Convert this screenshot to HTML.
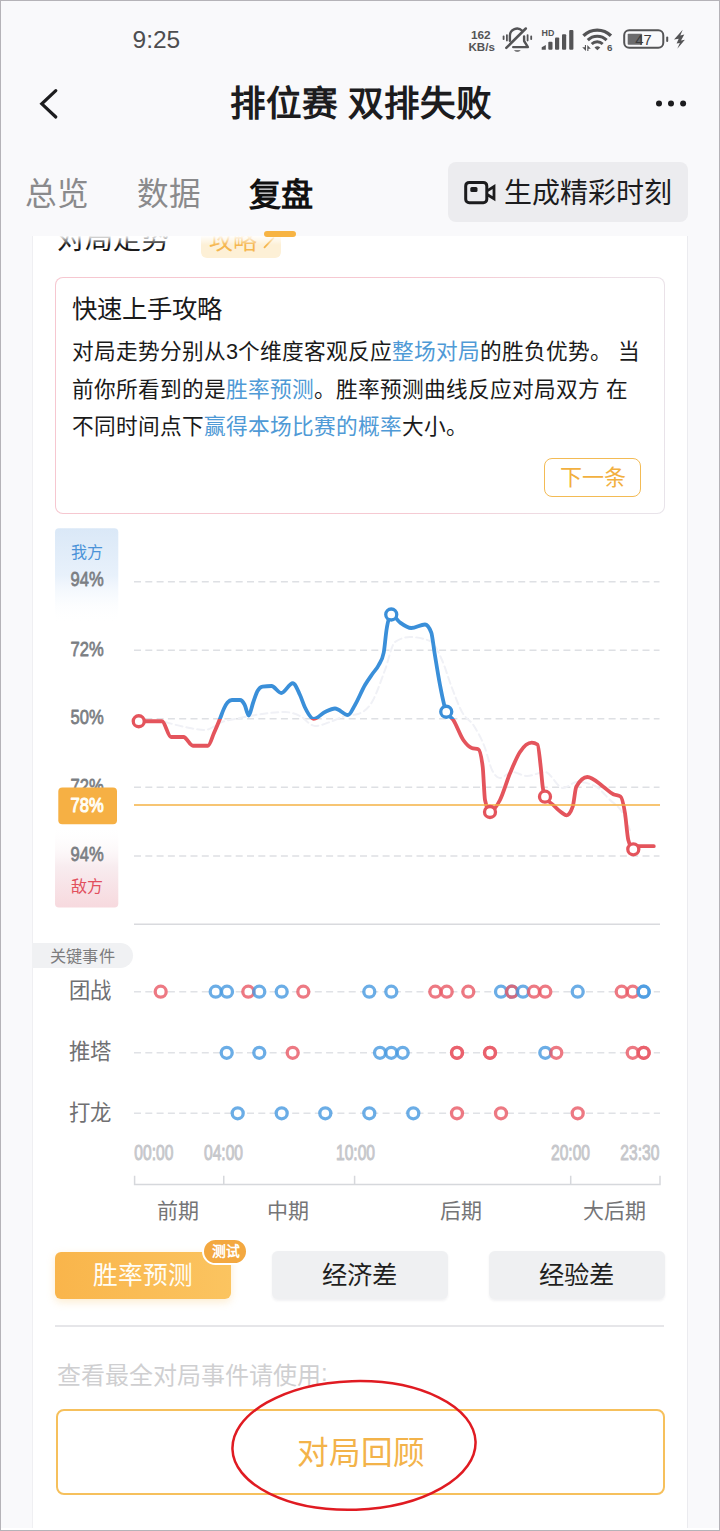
<!DOCTYPE html>
<html lang="zh-CN">
<head>
<meta charset="utf-8">
<title>排位赛 双排失败</title>
<style>
*{box-sizing:border-box;margin:0;padding:0}
html,body{width:720px;height:1531px;overflow:hidden}
body{position:relative;background:#f9f9fb;font-family:"Liberation Sans",sans-serif;color:#1a1a1a;-webkit-font-smoothing:antialiased}
.abs{position:absolute}
.t{position:absolute;white-space:nowrap;line-height:1}
.frame{position:absolute;left:0;top:0;width:720px;height:1531px;border:1px solid #b5b3b8;pointer-events:none;z-index:50}

/* status bar */
.time{left:132.5px;top:28px;font-size:24.5px;color:#4d4d4f}

/* nav */
.title{left:0;width:722px;top:86.5px;text-align:center;font-size:35.6px;font-weight:bold;color:#1c1c1e}

/* tabs */
.tab{top:179.3px;font-size:31.6px;color:#8a8a8c}
.tab.on{color:#111;font-weight:bold;font-size:32.2px;top:179px}
.genbtn{left:448px;top:162px;width:240px;height:59.5px;border-radius:8px;background:#ececef}
.genbtn .t{left:56px;top:17.8px;font-size:28px;color:#1c1c1e}
.ind{left:264px;top:231px;width:32px;height:6px;border-radius:3px;background:#f7b444;z-index:5}

/* card */
.card{left:32px;top:236px;width:655.5px;height:1295px;background:#fff;overflow:hidden;border-left:1px solid #efeff2;border-right:1px solid #ebebef}
.card .h{left:24px;top:-10.5px;font-size:28px;color:#1a1a1a}
.badge{left:168px;top:-10px;width:79.5px;height:32.3px;border-radius:6px;background:#fdf0d6}
.badge .t{left:7.5px;top:2.6px;font-size:24px;color:#f5b64e}

/* tip box */
.tip{left:55px;top:277px;width:610px;height:237px;border:1.5px solid transparent;border-radius:8px;background:linear-gradient(#fff,#fff) padding-box,linear-gradient(100deg,#f6c7d0 0%,#f6c9d2 60%,#eddfe6 85%,#e8e4ea 100%) border-box}
.tip h3{position:absolute;left:15.5px;top:18.5px;font-size:25.3px;font-weight:normal;line-height:1;color:#1a1a1a;white-space:nowrap}
.tip p{position:absolute;left:16px;top:55px;width:590px;font-size:21.7px;line-height:37.6px;color:#1a1a1a;white-space:nowrap}
.tip p b{font-weight:normal;color:#4f9ad6}
.next{left:544px;top:458px;width:97px;height:39px;border:1.5px solid #f3bb55;border-radius:8px;color:#f2b03f;font-size:22px;line-height:37.4px;text-align:center}
</style>
</head>
<body>
<div class="frame"></div>

<!-- status bar -->
<div class="t time">9:25</div>
<svg class="abs" id="status" style="left:460px;top:20px" width="240" height="40" viewBox="0 0 240 40">
<g fill="#545456" font-family="Liberation Sans, sans-serif" font-weight="bold" text-anchor="middle">
<text x="20.800" y="19.200" font-size="11.800">162</text>
<text x="21.700" y="30.900" font-size="11.600">KB/s</text>
<text x="87.900" y="16.300" font-size="8.900">HD</text>
<text x="149.700" y="31.100" font-size="9.800">6</text>
</g>
<!-- bell muted -->
<g fill="none" stroke="#545456" stroke-width="2.400" stroke-linecap="round" stroke-linejoin="round">
<path d="M49.900 20.800 V15.600 A7.100 7.100 0 0 1 62.200 10.800"/>
<path d="M64.100 16.500 V21 L67.900 27.100 H53.200"/>
<path d="M65.800 8.500 L46.300 27.800" stroke-width="2.500"/>
</g>
<g fill="#545456">
<path d="M53.800 30.300 H60.800 Q57.300 33.300 53.800 30.300 Z"/>
<rect x="42.700" y="15.600" width="1.800" height="4.400" rx=".8"/><rect x="46" y="14.300" width="1.800" height="7.100" rx=".8"/>
<rect x="66.700" y="14.300" width="1.800" height="7.100" rx=".8"/><rect x="70.300" y="15.600" width="1.800" height="4.400" rx=".8"/>
<!-- signal -->
<path d="M81.700 29.700 V27.300 L85.800 25 V29.700 Z"/>
<rect x="88.300" y="21.700" width="4.200" height="8" rx="1"/>
<rect x="95" y="17.500" width="4.200" height="12.200" rx="1"/>
<rect x="102" y="14.200" width="4.200" height="15.500" rx="1"/>
<rect x="109.200" y="10" width="4.200" height="19.700" rx="1"/>
<!-- wifi dot + arrows -->
<path d="M137.400 30.200 L134.500 27.400 Q137.400 25 140.300 27.400 Z"/>
<path d="M124.900 25 H126 V30.900 L122.200 27.200 H124.900 Z M127.300 25 L130.800 28.700 H128.400 V30.900 H127.300 Z"/>
<!-- battery -->
<rect x="167.700" y="13.700" width="14.400" height="11.100" rx=".8" fill="#6b6b6d"/>
<rect x="206.200" y="16.400" width="2" height="5.600" rx="1"/>
<path d="M222.700 9.800 L214 19.500 L218.700 18.800 L216.600 23.600 L219.800 22.900 L217.300 28.700 L224.900 19.800 L221 20.500 L224.300 14.400 L220.300 15.400 Z"/>
</g>
<g fill="none" stroke="#545456" stroke-linecap="butt">
<path d="M123.450 15.750 A19.450 19.450 0 0 1 150.950 15.750" stroke-width="3.300"/>
<path d="M127.800 20.100 A13.300 13.300 0 0 1 146.600 20.100" stroke-width="3"/>
<path d="M131.700 24 A7.800 7.800 0 0 1 142.700 24" stroke-width="2.800"/>
<rect x="164.200" y="10.200" width="39.100" height="17.500" rx="5" stroke-width="2"/>
</g>
<text x="183.500" y="24.800" font-family="Liberation Sans, sans-serif" font-size="14.800" fill="#3c3c3e" text-anchor="middle">47</text>
</svg>

<!-- nav -->
<svg class="abs" style="left:36px;top:84px" width="28" height="40" viewBox="0 0 28 40"><path d="M19.8 6.6 L5.8 19.8 L19.8 33" fill="none" stroke="#1c1c1e" stroke-width="3.200" stroke-linecap="round" stroke-linejoin="miter"/></svg>
<div class="t title">排位赛 双排失败</div>
<svg class="abs" style="left:652px;top:96px" width="40" height="16" viewBox="0 0 40 16"><circle cx="7" cy="7.500" r="3" fill="#1c1c1e"/><circle cx="19" cy="7.500" r="3" fill="#1c1c1e"/><circle cx="31.100" cy="7.500" r="3" fill="#1c1c1e"/></svg>

<!-- tabs -->
<div class="t tab" style="left:25px">总览</div>
<div class="t tab" style="left:137px">数据</div>
<div class="t tab on" style="left:248.5px">复盘</div>
<div class="abs genbtn">
  <svg class="abs" style="left:15px;top:16px" width="36" height="30" viewBox="0 0 36 30"><rect x="2.700" y="4.400" width="21.100" height="20.300" rx="3.500" fill="none" stroke="#1c1c1e" stroke-width="3"/><path d="M24.500 12.600 L31 8.600 V20.700 L24.500 16.700" fill="none" stroke="#1c1c1e" stroke-width="2.800" stroke-linejoin="miter"/><rect x="7.300" y="8.900" width="7.200" height="5.100" rx="1.500" fill="#1c1c1e"/></svg>
  <div class="t">生成精彩时刻</div>
</div>
<div class="abs ind"></div>

<!-- card -->
<div class="abs card">
  <div class="t h">对局走势</div>
  <div class="abs badge"><div class="t">攻略</div><svg class="abs" style="left:60px;top:8px" width="16" height="16" viewBox="0 0 16 16"><path d="M3.500 13.300 L12.500 3.800" stroke="#f5b64e" stroke-width="1.800" fill="none" stroke-linecap="round"/></svg></div>
  <div class="abs" style="left:0;top:0;width:656px;height:9px;background:linear-gradient(rgba(255,255,255,.95),rgba(255,255,255,0))"></div>
</div>

<!-- tip box -->
<div class="abs tip">
  <h3>快速上手攻略</h3>
  <p>对局走势分别从3个维度客观反应<b>整场对局</b>的胜负优势。 当<br>前你所看到的是<b>胜率预测</b>。胜率预测曲线反应对局双方 在<br>不同时间点下<b>赢得本场比赛的概率</b>大小。</p>
</div>
<div class="abs next">下一条</div>

<!--CHART-->
<svg class="abs" style="left:0;top:520px" width="720" height="420" viewBox="0 520 720 420">
<defs>
<linearGradient id="gb" x1="0" y1="0" x2="0" y2="1"><stop offset="0" stop-color="#dae8f7"/><stop offset=".5" stop-color="#e8f1fb"/><stop offset="1" stop-color="#ffffff" stop-opacity="0"/></linearGradient>
<linearGradient id="gr" x1="0" y1="0" x2="0" y2="1"><stop offset="0" stop-color="#ffffff" stop-opacity="0"/><stop offset=".5" stop-color="#f8ecef"/><stop offset="1" stop-color="#f7d9de"/></linearGradient>
<clipPath id="cu"><rect x="120" y="520" width="560" height="198.900"/></clipPath>
<clipPath id="cd"><rect x="120" y="718.900" width="560" height="220"/></clipPath>
</defs>
<path d="M55 623 V532.300 a4 4 0 0 1 4 -4 H114.300 a4 4 0 0 1 4 4 V623 Z" fill="url(#gb)"/>
<path d="M55 826 V903.500 a4 4 0 0 0 4 4 H114.300 a4 4 0 0 0 4 -4 V826 Z" fill="url(#gr)"/>
<g stroke="#dee0e4" stroke-width="1.400" stroke-dasharray="7 4.300" fill="none"><path d="M134 581.7 H659.500"/><path d="M134 650.2 H659.500"/><path d="M134 718.8 H659.500"/><path d="M134 787.3 H659.500"/><path d="M134 856.0 H659.500"/></g>
<path d="M165.00 722.00 C171.67 723.83 178.33 725.67 185.00 727.00 C191.67 728.33 198.33 730.00 205.00 730.00 C210.67 730.00 216.33 723.98 222.00 722.00 C228.00 719.90 234.00 719.22 240.00 718.00 C247.33 716.50 254.67 714.99 262.00 714.00 C269.67 712.96 277.33 712.00 285.00 712.00 C290.00 712.00 295.00 713.67 300.00 716.00 C305.00 718.33 310.00 726.00 315.00 726.00 C320.00 726.00 325.00 723.67 330.00 722.00 C335.00 720.33 340.00 717.34 345.00 716.00 C349.33 714.84 353.67 715.33 358.00 714.00 C362.67 712.56 367.33 709.88 372.00 702.00 C376.33 694.68 380.67 681.50 385.00 670.00 C388.33 661.16 391.67 644.22 395.00 642.00 C400.00 638.67 405.00 637.00 410.00 637.00 C416.67 637.00 423.33 638.33 430.00 641.00 C434.00 642.60 438.00 651.01 442.00 660.00 C445.33 667.49 448.67 679.33 452.00 688.00 C455.33 696.67 458.67 705.87 462.00 712.00 C466.00 719.36 470.00 719.59 474.00 726.00 C477.67 731.87 481.33 738.11 485.00 748.00 C487.33 754.30 489.67 765.33 492.00 770.00 C494.67 775.33 497.33 778.00 500.00 778.00 C504.00 778.00 508.00 772.00 512.00 772.00 C517.00 772.00 522.00 776.00 527.00 776.00 C533.00 776.00 539.00 772.00 545.00 772.00 C551.00 772.00 557.00 788.00 563.00 788.00 C567.67 788.00 572.33 782.00 577.00 782.00 C583.00 782.00 589.00 783.33 595.00 786.00 C600.00 788.22 605.00 795.15 610.00 800.00 C614.00 803.88 618.00 805.00 622.00 812.00 C624.67 816.67 627.33 823.33 630.00 830.00" fill="none" stroke="#f0f1f6" stroke-width="2" stroke-dasharray="7 4" stroke-linecap="round"/>
<path d="M134 924.200 H660" stroke="#d9dade" stroke-width="1.600"/>
<g font-family="Liberation Sans, sans-serif">
<text transform="translate(70.500 586.0) scale(.800 1)" font-size="20.700" fill="#7b7e83" stroke="#7b7e83" stroke-width=".750" stroke-linejoin="round">94%</text><text transform="translate(70.500 655.8) scale(.800 1)" font-size="20.700" fill="#7b7e83" stroke="#7b7e83" stroke-width=".750" stroke-linejoin="round">72%</text><text transform="translate(70.500 724.2) scale(.800 1)" font-size="20.700" fill="#7b7e83" stroke="#7b7e83" stroke-width=".750" stroke-linejoin="round">50%</text><text transform="translate(70.500 793.0) scale(.800 1)" font-size="20.700" fill="#7b7e83" stroke="#7b7e83" stroke-width=".750" stroke-linejoin="round">72%</text><text transform="translate(70.500 861.0) scale(.800 1)" font-size="20.700" fill="#7b7e83" stroke="#7b7e83" stroke-width=".750" stroke-linejoin="round">94%</text>
</g>
<g fill="none" stroke-width="3.800" stroke-linecap="round" stroke-linejoin="round">
<path d="M138.75 721.25 C146.50 721.25 154.25 721.25 162.00 721.25 C165.00 721.25 168.00 737.00 171.00 737.00 C175.17 737.00 179.33 737.00 183.50 737.00 C186.67 737.00 189.83 745.75 193.00 745.75 C198.00 745.75 203.00 745.75 208.00 745.75 C210.00 745.75 212.00 737.50 214.00 733.00 C216.00 728.50 218.00 723.73 220.00 718.75 C221.33 715.43 222.67 711.31 224.00 708.50 C225.17 706.04 226.33 703.80 227.50 702.50 C229.00 700.83 230.50 700.00 232.00 700.00 C234.67 700.00 237.33 700.00 240.00 700.00 C241.50 700.00 243.00 701.77 244.50 704.50 C245.92 707.07 247.33 715.50 248.75 715.50 C250.17 715.50 251.58 706.98 253.00 703.00 C254.50 698.79 256.00 693.64 257.50 691.00 C259.17 688.07 260.83 686.82 262.50 686.60 C265.50 686.20 268.50 686.00 271.50 686.00 C274.75 686.00 278.00 693.00 281.25 693.00 C285.08 693.00 288.92 683.25 292.75 683.25 C295.17 683.25 297.58 689.83 300.00 695.00 C301.67 698.57 303.33 704.06 305.00 707.50 C307.92 713.52 310.83 718.90 313.75 718.90 C317.50 718.90 321.25 713.78 325.00 712.00 C328.33 710.42 331.67 708.50 335.00 708.50 C339.33 708.50 343.67 715.00 348.00 715.00 C350.33 715.00 352.67 708.88 355.00 705.00 C358.33 699.45 361.67 690.71 365.00 685.00 C367.50 680.71 370.00 677.36 372.50 673.75 C374.58 670.74 376.67 669.19 378.75 665.00 C380.42 661.65 382.08 660.83 383.75 652.50 C384.67 647.92 385.58 635.85 386.50 630.00 C388.08 619.90 389.67 614.50 391.25 614.50 C394.17 614.50 397.08 620.38 400.00 622.50 C403.75 625.23 407.50 628.00 411.25 628.00 C415.83 628.00 420.42 624.50 425.00 624.50 C427.08 624.50 429.17 627.17 431.25 632.50 C432.33 635.27 433.42 645.93 434.50 652.50 C436.33 663.62 438.17 675.56 440.00 685.00 C442.08 695.72 444.17 706.87 446.25 711.75 C448.60 717.25 450.95 716.44 453.30 720.00 C456.63 725.04 459.97 735.23 463.30 740.00 C466.10 744.01 468.90 746.90 471.70 748.00 C473.90 748.87 476.10 748.43 478.30 749.30 C479.77 749.88 481.23 755.10 482.70 766.70 C483.47 772.76 484.23 796.32 485.00 800.00 C486.67 808.00 488.33 812.00 490.00 812.00 C493.33 812.00 496.67 806.45 500.00 800.00 C503.33 793.55 506.67 781.30 510.00 773.30 C513.33 765.30 516.67 757.05 520.00 752.00 C523.90 746.09 527.80 742.70 531.70 742.70 C533.63 742.70 535.57 743.30 537.50 744.50 C538.57 745.16 539.63 757.29 540.70 766.70 C541.37 772.58 542.03 781.79 542.70 786.70 C543.47 792.35 544.23 795.17 545.00 796.70 C547.77 802.23 550.53 802.35 553.30 805.00 C556.10 807.68 558.90 810.83 561.70 812.70 C563.37 813.81 565.03 815.30 566.70 815.30 C568.70 815.30 570.70 812.43 572.70 806.70 C573.90 803.26 575.10 788.82 576.30 786.70 C579.97 780.23 583.63 777.00 587.30 777.00 C592.63 777.00 597.97 782.96 603.30 786.70 C606.63 789.04 609.97 792.65 613.30 794.30 C615.70 795.49 618.10 795.03 620.50 796.50 C622.00 797.42 623.50 803.93 625.00 813.30 C626.10 820.17 627.20 835.91 628.30 840.00 C629.97 846.20 631.63 849.30 633.30 849.30 C635.03 849.30 636.77 846.20 638.50 846.20 C643.60 846.20 648.70 846.20 653.80 846.20" stroke="#3a8fd9" clip-path="url(#cu)"/>
<path d="M138.75 721.25 C146.50 721.25 154.25 721.25 162.00 721.25 C165.00 721.25 168.00 737.00 171.00 737.00 C175.17 737.00 179.33 737.00 183.50 737.00 C186.67 737.00 189.83 745.75 193.00 745.75 C198.00 745.75 203.00 745.75 208.00 745.75 C210.00 745.75 212.00 737.50 214.00 733.00 C216.00 728.50 218.00 723.73 220.00 718.75 C221.33 715.43 222.67 711.31 224.00 708.50 C225.17 706.04 226.33 703.80 227.50 702.50 C229.00 700.83 230.50 700.00 232.00 700.00 C234.67 700.00 237.33 700.00 240.00 700.00 C241.50 700.00 243.00 701.77 244.50 704.50 C245.92 707.07 247.33 715.50 248.75 715.50 C250.17 715.50 251.58 706.98 253.00 703.00 C254.50 698.79 256.00 693.64 257.50 691.00 C259.17 688.07 260.83 686.82 262.50 686.60 C265.50 686.20 268.50 686.00 271.50 686.00 C274.75 686.00 278.00 693.00 281.25 693.00 C285.08 693.00 288.92 683.25 292.75 683.25 C295.17 683.25 297.58 689.83 300.00 695.00 C301.67 698.57 303.33 704.06 305.00 707.50 C307.92 713.52 310.83 718.90 313.75 718.90 C317.50 718.90 321.25 713.78 325.00 712.00 C328.33 710.42 331.67 708.50 335.00 708.50 C339.33 708.50 343.67 715.00 348.00 715.00 C350.33 715.00 352.67 708.88 355.00 705.00 C358.33 699.45 361.67 690.71 365.00 685.00 C367.50 680.71 370.00 677.36 372.50 673.75 C374.58 670.74 376.67 669.19 378.75 665.00 C380.42 661.65 382.08 660.83 383.75 652.50 C384.67 647.92 385.58 635.85 386.50 630.00 C388.08 619.90 389.67 614.50 391.25 614.50 C394.17 614.50 397.08 620.38 400.00 622.50 C403.75 625.23 407.50 628.00 411.25 628.00 C415.83 628.00 420.42 624.50 425.00 624.50 C427.08 624.50 429.17 627.17 431.25 632.50 C432.33 635.27 433.42 645.93 434.50 652.50 C436.33 663.62 438.17 675.56 440.00 685.00 C442.08 695.72 444.17 706.87 446.25 711.75 C448.60 717.25 450.95 716.44 453.30 720.00 C456.63 725.04 459.97 735.23 463.30 740.00 C466.10 744.01 468.90 746.90 471.70 748.00 C473.90 748.87 476.10 748.43 478.30 749.30 C479.77 749.88 481.23 755.10 482.70 766.70 C483.47 772.76 484.23 796.32 485.00 800.00 C486.67 808.00 488.33 812.00 490.00 812.00 C493.33 812.00 496.67 806.45 500.00 800.00 C503.33 793.55 506.67 781.30 510.00 773.30 C513.33 765.30 516.67 757.05 520.00 752.00 C523.90 746.09 527.80 742.70 531.70 742.70 C533.63 742.70 535.57 743.30 537.50 744.50 C538.57 745.16 539.63 757.29 540.70 766.70 C541.37 772.58 542.03 781.79 542.70 786.70 C543.47 792.35 544.23 795.17 545.00 796.70 C547.77 802.23 550.53 802.35 553.30 805.00 C556.10 807.68 558.90 810.83 561.70 812.70 C563.37 813.81 565.03 815.30 566.70 815.30 C568.70 815.30 570.70 812.43 572.70 806.70 C573.90 803.26 575.10 788.82 576.30 786.70 C579.97 780.23 583.63 777.00 587.30 777.00 C592.63 777.00 597.97 782.96 603.30 786.70 C606.63 789.04 609.97 792.65 613.30 794.30 C615.70 795.49 618.10 795.03 620.50 796.50 C622.00 797.42 623.50 803.93 625.00 813.30 C626.10 820.17 627.20 835.91 628.30 840.00 C629.97 846.20 631.63 849.30 633.30 849.30 C635.03 849.30 636.77 846.20 638.50 846.20 C643.60 846.20 648.70 846.20 653.80 846.20" stroke="#e4545c" clip-path="url(#cd)"/>
</g>
<path d="M134 805 H660" stroke="#f5b244" stroke-width="1.700"/>
<g fill="#fff" stroke-width="3.300">
<circle cx="138.75" cy="721.25" r="5.500" stroke="#e4545c"/><circle cx="391.25" cy="614.50" r="5.500" stroke="#3a8fd9"/><circle cx="446.25" cy="711.75" r="5.500" stroke="#3a8fd9"/><circle cx="490.00" cy="812.00" r="5.500" stroke="#e4545c"/><circle cx="545.00" cy="796.70" r="5.500" stroke="#e4545c"/><circle cx="633.30" cy="849.30" r="5.500" stroke="#e4545c"/>
</g>
<rect x="58.300" y="787.500" width="58.700" height="36.700" rx="4" fill="#f6b044"/>
<g font-family="Liberation Sans, sans-serif"><text transform="translate(70.500 812.3) scale(.800 1)" font-size="20.700" fill="#fffdf5" stroke="#fffdf5" stroke-width="1.150" stroke-linejoin="round">78%</text></g>
<text x="70.800" y="558" font-family="Liberation Sans, sans-serif" font-size="16" fill="#4b93d8">我方</text>
<text x="70.800" y="891.500" font-family="Liberation Sans, sans-serif" font-size="16" fill="#e2505e">敌方</text>
</svg>
<!--/CHART-->

<!--EVENTS-->
<div class="abs" style="left:32px;top:942.500px;width:100.500px;height:25.200px;border-radius:0 12.600px 12.600px 0;background:#f0f1f3"></div>
<div class="t" style="left:50px;top:947.500px;font-size:16.200px;color:#7c7c7e;letter-spacing:.2px">关键事件</div>
<div class="t" style="left:68.500px;top:980.9px;font-size:21.300px;color:#707072">团战</div>
<div class="t" style="left:68.500px;top:1042.0px;font-size:21.300px;color:#707072">推塔</div>
<div class="t" style="left:68.500px;top:1102.5px;font-size:21.300px;color:#707072">打龙</div>
<svg class="abs" style="left:0;top:970px" width="720" height="260" viewBox="0 970 720 260"><g stroke="#e0e2e6" stroke-width="1.400" stroke-dasharray="7 4.300" fill="none"><path d="M134 991.7 H660"/><path d="M134 1052.8 H660"/><path d="M134 1113.3 H660"/></g><g fill="#fff"><circle cx="160.7" cy="991.7" r="5.500"/><circle cx="215.7" cy="991.7" r="5.500"/><circle cx="227.0" cy="991.7" r="5.500"/><circle cx="248.3" cy="991.7" r="5.500"/><circle cx="259.3" cy="991.7" r="5.500"/><circle cx="281.7" cy="991.7" r="5.500"/><circle cx="303.3" cy="991.7" r="5.500"/><circle cx="369.3" cy="991.7" r="5.500"/><circle cx="391.3" cy="991.7" r="5.500"/><circle cx="435.3" cy="991.7" r="5.500"/><circle cx="446.7" cy="991.7" r="5.500"/><circle cx="468.3" cy="991.7" r="5.500"/><circle cx="501.0" cy="991.7" r="5.500"/><circle cx="512.0" cy="991.7" r="5.500"/><circle cx="512.0" cy="991.7" r="5.500"/><circle cx="523.0" cy="991.7" r="5.500"/><circle cx="534.0" cy="991.7" r="5.500"/><circle cx="545.3" cy="991.7" r="5.500"/><circle cx="577.7" cy="991.7" r="5.500"/><circle cx="621.7" cy="991.7" r="5.500"/><circle cx="632.7" cy="991.7" r="5.500"/><circle cx="643.7" cy="991.7" r="5.500"/><circle cx="643.7" cy="991.7" r="5.500"/><circle cx="226.7" cy="1052.8" r="5.500"/><circle cx="259.3" cy="1052.8" r="5.500"/><circle cx="292.7" cy="1052.8" r="5.500"/><circle cx="380.0" cy="1052.8" r="5.500"/><circle cx="391.3" cy="1052.8" r="5.500"/><circle cx="402.7" cy="1052.8" r="5.500"/><circle cx="457.0" cy="1052.8" r="5.500"/><circle cx="457.0" cy="1052.8" r="5.500"/><circle cx="490.0" cy="1052.8" r="5.500"/><circle cx="490.0" cy="1052.8" r="5.500"/><circle cx="545.3" cy="1052.8" r="5.500"/><circle cx="556.3" cy="1052.8" r="5.500"/><circle cx="632.7" cy="1052.8" r="5.500"/><circle cx="643.7" cy="1052.8" r="5.500"/><circle cx="643.7" cy="1052.8" r="5.500"/><circle cx="237.7" cy="1113.3" r="5.500"/><circle cx="281.7" cy="1113.3" r="5.500"/><circle cx="325.3" cy="1113.3" r="5.500"/><circle cx="369.3" cy="1113.3" r="5.500"/><circle cx="413.3" cy="1113.3" r="5.500"/><circle cx="457.0" cy="1113.3" r="5.500"/><circle cx="501.0" cy="1113.3" r="5.500"/><circle cx="577.7" cy="1113.3" r="5.500"/></g><g fill="none" stroke-width="3.300" stroke-opacity=".82"><circle cx="160.7" cy="991.7" r="5.500" stroke="#e95c68"/><circle cx="215.7" cy="991.7" r="5.500" stroke="#4a9be0"/><circle cx="227.0" cy="991.7" r="5.500" stroke="#4a9be0"/><circle cx="248.3" cy="991.7" r="5.500" stroke="#e95c68"/><circle cx="259.3" cy="991.7" r="5.500" stroke="#4a9be0"/><circle cx="281.7" cy="991.7" r="5.500" stroke="#4a9be0"/><circle cx="303.3" cy="991.7" r="5.500" stroke="#e95c68"/><circle cx="369.3" cy="991.7" r="5.500" stroke="#4a9be0"/><circle cx="391.3" cy="991.7" r="5.500" stroke="#4a9be0"/><circle cx="435.3" cy="991.7" r="5.500" stroke="#e95c68"/><circle cx="446.7" cy="991.7" r="5.500" stroke="#e95c68"/><circle cx="468.3" cy="991.7" r="5.500" stroke="#e95c68"/><circle cx="501.0" cy="991.7" r="5.500" stroke="#4a9be0"/><circle cx="512.0" cy="991.7" r="5.500" stroke="#4a9be0"/><circle cx="512.0" cy="991.7" r="5.500" stroke="#e95c68"/><circle cx="523.0" cy="991.7" r="5.500" stroke="#4a9be0"/><circle cx="534.0" cy="991.7" r="5.500" stroke="#e95c68"/><circle cx="545.3" cy="991.7" r="5.500" stroke="#e95c68"/><circle cx="577.7" cy="991.7" r="5.500" stroke="#4a9be0"/><circle cx="621.7" cy="991.7" r="5.500" stroke="#e95c68"/><circle cx="632.7" cy="991.7" r="5.500" stroke="#e95c68"/><circle cx="643.7" cy="991.7" r="5.500" stroke="#4a9be0"/><circle cx="643.7" cy="991.7" r="5.500" stroke="#4a9be0"/><circle cx="226.7" cy="1052.8" r="5.500" stroke="#4a9be0"/><circle cx="259.3" cy="1052.8" r="5.500" stroke="#4a9be0"/><circle cx="292.7" cy="1052.8" r="5.500" stroke="#e95c68"/><circle cx="380.0" cy="1052.8" r="5.500" stroke="#4a9be0"/><circle cx="391.3" cy="1052.8" r="5.500" stroke="#4a9be0"/><circle cx="402.7" cy="1052.8" r="5.500" stroke="#4a9be0"/><circle cx="457.0" cy="1052.8" r="5.500" stroke="#e95c68"/><circle cx="457.0" cy="1052.8" r="5.500" stroke="#e95c68"/><circle cx="490.0" cy="1052.8" r="5.500" stroke="#e95c68"/><circle cx="490.0" cy="1052.8" r="5.500" stroke="#e95c68"/><circle cx="545.3" cy="1052.8" r="5.500" stroke="#4a9be0"/><circle cx="556.3" cy="1052.8" r="5.500" stroke="#e95c68"/><circle cx="632.7" cy="1052.8" r="5.500" stroke="#e95c68"/><circle cx="643.7" cy="1052.8" r="5.500" stroke="#e95c68"/><circle cx="643.7" cy="1052.8" r="5.500" stroke="#e95c68"/><circle cx="237.7" cy="1113.3" r="5.500" stroke="#4a9be0"/><circle cx="281.7" cy="1113.3" r="5.500" stroke="#4a9be0"/><circle cx="325.3" cy="1113.3" r="5.500" stroke="#4a9be0"/><circle cx="369.3" cy="1113.3" r="5.500" stroke="#4a9be0"/><circle cx="413.3" cy="1113.3" r="5.500" stroke="#4a9be0"/><circle cx="457.0" cy="1113.3" r="5.500" stroke="#e95c68"/><circle cx="501.0" cy="1113.3" r="5.500" stroke="#e95c68"/><circle cx="577.7" cy="1113.3" r="5.500" stroke="#e95c68"/></g><g font-family="Liberation Sans, sans-serif" font-size="22.600" fill="#c6c7cb" stroke="#c6c7cb" stroke-width="1" stroke-linejoin="round"><text transform="translate(134.3 1159.600) scale(.690 1)">00:00</text><text transform="translate(204.0 1159.600) scale(.690 1)">04:00</text><text transform="translate(336.0 1159.600) scale(.690 1)">10:00</text><text transform="translate(551.0 1159.600) scale(.690 1)">20:00</text><text transform="translate(620.3 1159.600) scale(.690 1)">23:30</text></g><path d="M134.600 1175.800 V1184.600 H660 V1175.800 M223.750 1175.800 V1184.600 M354.600 1175.800 V1184.600 M570.700 1175.800 V1184.600" fill="none" stroke="#d6d8dc" stroke-width="1.500"/></svg>
<div class="t" style="left:156.5px;top:1200px;font-size:21px;color:#757577">前期</div>
<div class="t" style="left:266.5px;top:1200px;font-size:21px;color:#757577">中期</div>
<div class="t" style="left:440.3px;top:1200px;font-size:21px;color:#757577">后期</div>
<div class="t" style="left:583.0px;top:1200px;font-size:21px;color:#757577">大后期</div>
<!--/EVENTS-->

<!--BOTTOM-->
<div class="abs" style="left:55px;top:1251.500px;width:175.500px;height:47.500px;border-radius:6px;background:linear-gradient(90deg,#f9b54b,#fbc460);box-shadow:0 3px 8px rgba(249,186,84,.28)"></div>
<div class="t" style="left:92.500px;top:1264px;font-size:24.700px;color:#fffdf6">胜率预测</div>
<div class="abs" style="left:202px;top:1238px;width:45.500px;height:27px;border-radius:14px;background:#f3a840;border:2px solid #fff"></div>
<div class="t" style="left:211.500px;top:1244.500px;font-size:13.800px;font-weight:bold;color:#fff">测试</div>
<div class="abs" style="left:272px;top:1251px;width:176px;height:48px;border-radius:6px;background:#eff0f2;box-shadow:0 1.500px 2.500px rgba(60,60,80,.07)"></div>
<div class="t" style="left:322px;top:1262.500px;font-size:25.300px;color:#1f1f21">经济差</div>
<div class="abs" style="left:489px;top:1251px;width:176px;height:48px;border-radius:6px;background:#eff0f2;box-shadow:0 1.500px 2.500px rgba(60,60,80,.07)"></div>
<div class="t" style="left:539px;top:1262.500px;font-size:25.300px;color:#1f1f21">经验差</div>
<div class="abs" style="left:55px;top:1325px;width:609px;height:1.500px;background:#e6e6e9"></div>
<div class="t" style="left:57px;top:1364px;font-size:24px;color:#cfcfd1">查看最全对局事件请使用<span style="position:relative;top:-3px">:</span></div>
<div class="abs" style="left:56px;top:1408.500px;width:608.500px;height:86.500px;border:2px solid #f6c05c;border-radius:8px"></div>
<div class="t" style="left:297px;top:1438px;font-size:31.600px;color:#f3b34a">对局回顾</div>
<svg class="abs" style="left:220px;top:1370px" width="270" height="150" viewBox="220 1370 270 150"><ellipse cx="354" cy="1445.400" rx="121.600" ry="64.300" transform="rotate(-1.800 354 1445.400)" fill="none" stroke="#e01b22" stroke-width="2.500"/></svg>
<div class="abs" style="left:1px;top:1528px;width:718px;height:2px;background:#fff"></div>
<!--/BOTTOM-->

</body>
</html>
